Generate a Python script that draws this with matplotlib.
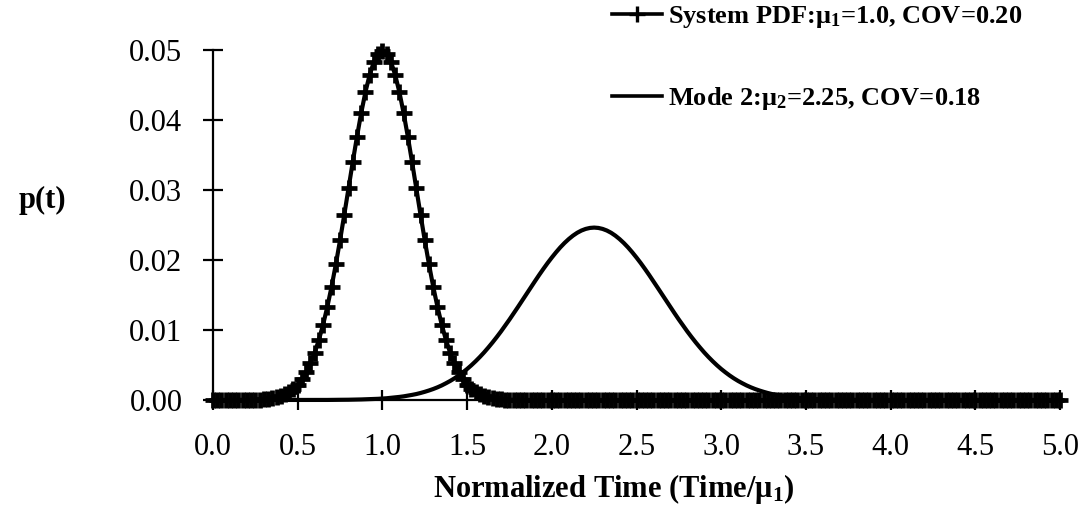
"""
System PDF vs. failure mode 2 PDF on a normalized time axis.
"""
import numpy as np
import matplotlib
matplotlib.use('Agg')
import matplotlib.pyplot as plt
from matplotlib.lines import Line2D

plt.rcParams['font.family'] = ['Liberation Serif', 'DejaVu Serif']
plt.rcParams['mathtext.fontset'] = 'custom'
plt.rcParams['mathtext.rm'] = 'Liberation Serif'
plt.rcParams['mathtext.bf'] = 'Liberation Serif:bold'
plt.rcParams['mathtext.it'] = 'Liberation Serif:italic'

# time grid, step 0.025 from 0 to 5
TIME = np.linspace(0.0, 5.0, 201)

# probability per step
SYSTEM_PDF = [
    0, 0, 0, 0, 0, 0, 0.00001, 0.00001, 0.00002, 0.00003,
    0.00004, 0.00007, 0.00011, 0.00017, 0.00025, 0.00038, 0.00055, 0.00080, 0.00114, 0.00159,
    0.00219, 0.00297, 0.00397, 0.00522, 0.00675, 0.00860, 0.01078, 0.01332, 0.01619, 0.01938,
    0.02283, 0.02648, 0.03025, 0.03401, 0.03764, 0.04102, 0.04401, 0.04648, 0.04833, 0.04948,
    0.04987, 0.04948, 0.04833, 0.04648, 0.04401, 0.04102, 0.03764, 0.03401, 0.03025, 0.02648,
    0.02283, 0.01938, 0.01619, 0.01332, 0.01078, 0.00860, 0.00675, 0.00522, 0.00397, 0.00297,
    0.00219, 0.00159, 0.00114, 0.00080, 0.00055, 0.00038, 0.00025, 0.00017, 0.00011, 0.00007,
    0.00004, 0.00003, 0.00002, 0.00001, 0.00001, 0, 0, 0, 0, 0,
    0, 0, 0, 0, 0, 0, 0, 0, 0, 0,
    0, 0, 0, 0, 0, 0, 0, 0, 0, 0,
    0, 0, 0, 0, 0, 0, 0, 0, 0, 0,
    0, 0, 0, 0, 0, 0, 0, 0, 0, 0,
    0, 0, 0, 0, 0, 0, 0, 0, 0, 0,
    0, 0, 0, 0, 0, 0, 0, 0, 0, 0,
    0, 0, 0, 0, 0, 0, 0, 0, 0, 0,
    0, 0, 0, 0, 0, 0, 0, 0, 0, 0,
    0, 0, 0, 0, 0, 0, 0, 0, 0, 0,
    0, 0, 0, 0, 0, 0, 0, 0, 0, 0,
    0, 0, 0, 0, 0, 0, 0, 0, 0, 0,
    0, 0, 0, 0, 0, 0, 0, 0, 0, 0,
    0,
]

MODE2_PDF = [
    0, 0, 0, 0, 0, 0, 0, 0, 0, 0,
    0, 0, 0, 0, 0, 0, 0, 0, 0, 0,
    0, 0, 0, 0.00001, 0.00001, 0.00001, 0.00001, 0.00001, 0.00002, 0.00002,
    0.00003, 0.00003, 0.00004, 0.00005, 0.00006, 0.00008, 0.00010, 0.00012, 0.00014, 0.00017,
    0.00021, 0.00025, 0.00031, 0.00037, 0.00044, 0.00052, 0.00062, 0.00073, 0.00085, 0.00100,
    0.00117, 0.00136, 0.00157, 0.00181, 0.00208, 0.00239, 0.00272, 0.00309, 0.00350, 0.00395,
    0.00443, 0.00496, 0.00553, 0.00614, 0.00679, 0.00749, 0.00822, 0.00899, 0.00979, 0.01063,
    0.01149, 0.01238, 0.01328, 0.01420, 0.01512, 0.01604, 0.01695, 0.01785, 0.01872, 0.01956,
    0.02035, 0.02110, 0.02180, 0.02243, 0.02299, 0.02348, 0.02389, 0.02421, 0.02444, 0.02458,
    0.02463, 0.02458, 0.02444, 0.02421, 0.02389, 0.02348, 0.02299, 0.02243, 0.02180, 0.02110,
    0.02035, 0.01956, 0.01872, 0.01785, 0.01695, 0.01604, 0.01512, 0.01420, 0.01328, 0.01238,
    0.01149, 0.01063, 0.00979, 0.00899, 0.00822, 0.00749, 0.00679, 0.00614, 0.00553, 0.00496,
    0.00443, 0.00395, 0.00350, 0.00309, 0.00272, 0.00239, 0.00208, 0.00181, 0.00157, 0.00136,
    0.00117, 0.00100, 0.00085, 0.00073, 0.00062, 0.00052, 0.00044, 0.00037, 0.00031, 0.00025,
    0.00021, 0.00017, 0.00014, 0.00012, 0.00010, 0.00008, 0.00006, 0.00005, 0.00004, 0.00003,
    0.00003, 0.00002, 0.00002, 0.00001, 0.00001, 0.00001, 0.00001, 0.00001, 0, 0,
    0, 0, 0, 0, 0, 0, 0, 0, 0, 0,
    0, 0, 0, 0, 0, 0, 0, 0, 0, 0,
    0, 0, 0, 0, 0, 0, 0, 0, 0, 0,
    0, 0, 0, 0, 0, 0, 0, 0, 0, 0,
    0,
]

X_TICKS = [0.0, 0.5, 1.0, 1.5, 2.0, 2.5, 3.0, 3.5, 4.0, 4.5, 5.0]
Y_TICKS = [0.00, 0.01, 0.02, 0.03, 0.04, 0.05]
LABEL_SYSTEM = r'System PDF:$\mathbf{\mu_1}$=1.0, COV=0.20'
LABEL_MODE2 = r'Mode 2:$\mathbf{\mu_2}$=2.25, COV=0.18'

fig = plt.figure(figsize=(10.89, 5.25), dpi=100)
ax = fig.add_axes([213 / 1089, 125 / 525, 847 / 1089, 350 / 525])

ax.plot(TIME, MODE2_PDF, color='black', linewidth=3.0, clip_on=False, zorder=2)
ax.plot(TIME, SYSTEM_PDF, color='black', linewidth=3.0, marker='+', markersize=11,
        markeredgewidth=3.4, clip_on=False, zorder=3)

ax.set_xlim(0, 5)
ax.set_ylim(0, 0.05)
ax.set_xticks(X_TICKS)
ax.set_xticklabels([f'{v:.1f}' for v in X_TICKS])
ax.set_yticks(Y_TICKS)
ax.set_yticklabels([f'{v:.2f}' for v in Y_TICKS])

for s in ['top', 'right']:
    ax.spines[s].set_visible(False)
for s in ['left', 'bottom']:
    ax.spines[s].set_linewidth(1.6)

ax.tick_params(axis='x', direction='inout', length=14, width=1.6, pad=17, labelsize=22)
ax.tick_params(axis='y', direction='inout', length=14, width=1.6, pad=15, labelsize=22)

ax.set_xlabel(r'Normalized Time (Time/$\mathbf{\mu_1}$)', fontsize=22, fontweight='bold')
ax.xaxis.set_label_coords((614 - 213) / 847, -0.205)
fig.text(42 / 1089, 1 - 200 / 525, 'p(t)', fontsize=22, fontweight='bold', ha='center', va='center')

handles = [
    Line2D([0], [0], color='black', linewidth=2.6, marker='+', markersize=12, markeredgewidth=2.4),
    Line2D([0], [0], color='black', linewidth=2.6),
]
fig.legend(handles, [LABEL_SYSTEM, LABEL_MODE2], loc='upper left',
           bbox_to_anchor=(612 / 1089, 1 - 4 / 525), frameon=False,
           prop={'size': 19, 'weight': 'bold'}, handlelength=1.9, handletextpad=0.22,
           labelspacing=2.1, borderaxespad=0, borderpad=0, numpoints=1)

fig.savefig('out.png', dpi=100)
plt.close(fig)
